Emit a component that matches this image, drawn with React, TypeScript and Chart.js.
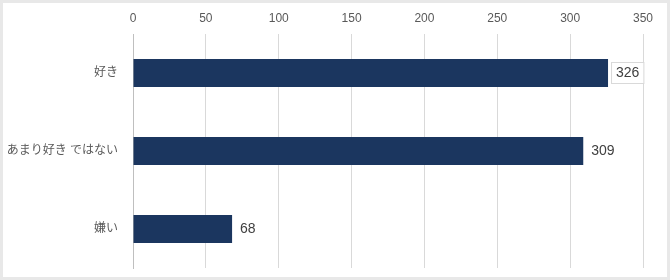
import React, { useEffect, useRef } from "react";
import { Chart, registerables } from "chart.js";

Chart.register(...registerables);

const categories = ["好き", "あまり好き ではない", "嫌い"];
const values = [326, 309, 68];
const xTicks = [0, 50, 100, 150, 200, 250, 300, 350];
const boxedLabels = [true, false, false];

const FONT = "'Liberation Sans', 'Noto Sans CJK JP', sans-serif";

const labelPlugin = {
  id: "barLabels",
  afterDatasetsDraw(chart: any) {
    const ctx = chart.ctx;
    const meta = chart.getDatasetMeta(0);
    ctx.save();
    ctx.font = `14px ${FONT}`;
    ctx.textBaseline = "middle";
    ctx.textAlign = "left";
    meta.data.forEach((bar: any, i: number) => {
      const text = String(values[i]);
      const x = bar.x + 8;
      const y = bar.y;
      const w = ctx.measureText(text).width;
      if (boxedLabels[i]) {
        ctx.fillStyle = "#ffffff";
        ctx.fillRect(x - 4.5, y - 10.5, w + 9, 21);
        ctx.strokeStyle = "#d9d9d9";
        ctx.lineWidth = 1;
        ctx.strokeRect(x - 4.5, y - 10.5, w + 9, 21);
      }
      ctx.fillStyle = "#404040";
      ctx.fillText(text, x, y + 0.5);
    });
    ctx.restore();
  },
};

export default function App() {
  const ref = useRef<HTMLCanvasElement>(null);
  useEffect(() => {
    document.body.style.margin = "0";
    const chart = new Chart(ref.current!, {
      type: "bar",
      data: {
        labels: categories,
        datasets: [
          {
            data: values,
            backgroundColor: "#1b365f",
            categoryPercentage: 1,
            barPercentage: 0.36,
          },
        ],
      },
      options: {
        indexAxis: "y",
        animation: false,
        responsive: false,
        maintainAspectRatio: false,
        layout: { padding: { left: 0, right: 24, top: 0, bottom: 9 } },
        plugins: { legend: { display: false }, tooltip: { enabled: false } },
        scales: {
          x: {
            position: "top",
            min: 0,
            max: 350,
            afterBuildTicks: (s: any) => {
              s.ticks = xTicks.map((v) => ({ value: v }));
            },
            afterFit: (s: any) => {
              s.height = 31;
            },
            grid: { color: "#d9d9d9", drawTicks: false, lineWidth: 1 },
            border: { display: false },
            ticks: {
              padding: 8,
              color: "#595959",
              font: { family: FONT, size: 12 },
            },
          },
          y: {
            afterFit: (s: any) => {
              s.width = 130;
              s.paddingTop = 0;
              s.paddingBottom = 0;
            },
            grid: { display: false, drawTicks: false },
            border: { display: true, color: "#bfbfbf" },
            ticks: {
              padding: 15,
              color: "#595959",
              font: { family: FONT, size: 12 },
            },
          },
        },
      },
      plugins: [labelPlugin],
    });
    return () => chart.destroy();
  }, []);
  return (
    <div
      style={{
        width: 664,
        height: 274,
        border: "3px solid #e8e8e8",
        background: "#fff",
      }}
    >
      <canvas ref={ref} width={664} height={274} style={{ display: "block" }} />
    </div>
  );
}
